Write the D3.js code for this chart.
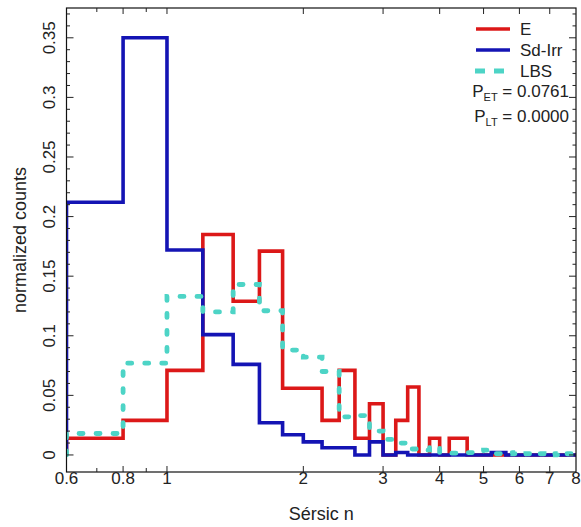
<!DOCTYPE html>
<html>
<head>
<meta charset="utf-8">
<script src="https://cdn.jsdelivr.net/npm/d3@7"></script>
<style>
  body { margin: 0; background: #fff; }
  text { font-family: "Liberation Sans", Arial, sans-serif; fill: #222; }
</style>
</head>
<body>
<svg id="chart" width="581" height="527"></svg>
<script>
// bin edges (Sersic n), 0.2 wide from 0.6 to 8
const binEdges = d3.range(0, 38).map(i => +(0.6 + i * 0.2).toFixed(1));

// normalized counts per bin
const eValues = [0.014, 0.029, 0.071, 0.185, 0.129, 0.171, 0.056, 0.056, 0.029, 0.071,
  0.014, 0.043, 0, 0.029, 0.057, 0, 0.014, 0, 0.014, 0.014,
  0, 0, 0, 0, 0, 0, 0, 0, 0, 0, 0, 0, 0, 0, 0, 0, 0];
const sdValues = [0.212, 0.35, 0.172, 0.101, 0.076, 0.027, 0.017, 0.011, 0.006, 0.006,
  0, 0.011, 0, 0.002, 0, 0, 0, 0, 0, 0,
  0, 0, 0, 0.002, 0.002, 0, 0, 0, 0, 0, 0, 0, 0, 0, 0, 0, 0];
const lbsValues = [0.018, 0.077, 0.133, 0.120, 0.143, 0.121, 0.088, 0.082, 0.070, 0.032,
  0.033, 0.020, 0.013, 0.010, 0.005, 0.004, 0.007, 0.002, 0.0015, 0.0015,
  0.002, 0.003, 0.004, 0.001, 0.001, 0.002, 0.001, 0, 0.001, 0.002, 0.001, 0, 0.001, 0, 0.002, 0.001, 0.003];

const xTickValues = [0.6, 0.8, 1, 2, 3, 4, 5, 6, 7, 8];
const xMinorTicks = [0.7, 0.9];
const yTickValues = [0, 0.05, 0.1, 0.15, 0.2, 0.25, 0.3, 0.35];
const yMinorTicks = d3.range(0, 38).map(i => i / 100);

const series = [
  { name: "E", values: eValues, color: "#dc1818", dash: null, width: 3.6 },
  { name: "Sd-Irr", values: sdValues, color: "#1414b4", dash: null, width: 3.6 },
  { name: "LBS", values: lbsValues, color: "#4dd4c6", dash: "4,13", width: 4.8 }
];

const svg = d3.select("#chart");
const plot = { left: 66.5, right: 576, top: 8, bottom: 472 };

const x = d3.scaleLog().domain([0.6, 8]).range([plot.left, plot.right]);
const y = d3.scaleLinear().domain([-0.0143, 0.375]).range([plot.bottom, plot.top]);

svg.append("defs").append("clipPath").attr("id", "clip")
  .append("rect").attr("x", plot.left).attr("y", plot.top)
  .attr("width", plot.right - plot.left).attr("height", plot.bottom - plot.top);

// stair points for a histogram
function stairs(values) {
  const pts = [[binEdges[0], 0]];
  values.forEach((v, i) => {
    pts.push([binEdges[i], v]);
    pts.push([binEdges[i + 1], v]);
  });
  pts.push([binEdges[binEdges.length - 1], 0]);
  return pts;
}

const line = d3.line().x(d => x(d[0])).y(d => y(d[1]));

const g = svg.append("g").attr("clip-path", "url(#clip)");
series.forEach(s => {
  g.append("path")
    .attr("d", line(stairs(s.values)))
    .attr("fill", "none")
    .attr("stroke", s.color)
    .attr("stroke-width", s.width)
    .attr("stroke-dasharray", s.dash)
    .attr("stroke-linecap", s.dash ? "round" : "butt")
    .attr("stroke-linejoin", "miter");
});

// frame
svg.append("rect")
  .attr("x", plot.left).attr("y", plot.top)
  .attr("width", plot.right - plot.left).attr("height", plot.bottom - plot.top)
  .attr("fill", "none").attr("stroke", "#111").attr("stroke-width", 1.2);

// y ticks, both sides, inward
const axisG = svg.append("g").attr("stroke", "#222").attr("stroke-width", 1);
yMinorTicks.forEach(v => {
  const major = yTickValues.some(t => Math.abs(t - v) < 1e-9);
  const len = major ? 7 : 3.5;
  axisG.append("line").attr("x1", plot.left).attr("x2", plot.left + len).attr("y1", y(v)).attr("y2", y(v));
  axisG.append("line").attr("x1", plot.right).attr("x2", plot.right - len).attr("y1", y(v)).attr("y2", y(v));
});

// x ticks, bottom and top
xTickValues.concat(xMinorTicks).forEach(v => {
  if (v === 0.6 || v === 8) return;
  const len = xMinorTicks.includes(v) ? 4 : 6;
  axisG.append("line").attr("x1", x(v)).attr("x2", x(v)).attr("y1", plot.bottom).attr("y2", plot.bottom - len);
  axisG.append("line").attr("x1", x(v)).attr("x2", x(v)).attr("y1", plot.top).attr("y2", plot.top + len);
});

// tick labels
svg.selectAll(".xlab").data(xTickValues).join("text")
  .attr("x", d => x(d)).attr("y", 484)
  .attr("text-anchor", "middle")
  .attr("font-size", 17)
  .text(d => d);

svg.selectAll(".ylab").data(yTickValues).join("text")
  .attr("transform", d => `translate(55,${y(d)}) rotate(-90)`)
  .attr("text-anchor", "middle")
  .attr("font-size", 17)
  .text(d => d);

// axis titles
svg.append("text")
  .attr("x", (plot.left + plot.right) / 2).attr("y", 520)
  .attr("text-anchor", "middle").attr("font-size", 18)
  .text("Sérsic n");

svg.append("text")
  .attr("transform", `translate(26,${(plot.top + plot.bottom) / 2}) rotate(-90)`)
  .attr("text-anchor", "middle").attr("font-size", 18)
  .text("normalized counts");

// legend
const legY = [29, 50, 71];
series.forEach((s, i) => {
  svg.append("line")
    .attr("x1", s.dash ? 475 : 476).attr("x2", s.dash ? 504 : 510)
    .attr("y1", legY[i]).attr("y2", legY[i])
    .attr("stroke", s.color).attr("stroke-width", s.width)
    .attr("stroke-dasharray", s.dash ? "10,9" : null);
  svg.append("text")
    .attr("x", 520).attr("y", legY[i] + 6)
    .attr("font-size", 17)
    .text(s.name);
});

const pLabels = [["ET", "0.0761"], ["LT", "0.0000"]];
pLabels.forEach((p, i) => {
  const t = svg.append("text")
    .attr("x", 569).attr("y", 97 + i * 25)
    .attr("text-anchor", "end")
    .attr("font-size", 17);
  t.append("tspan").text("P");
  t.append("tspan").attr("font-size", 11).attr("dy", 4).text(p[0]);
  t.append("tspan").attr("dy", -4).text(" = " + p[1]);
});
</script>
</body>
</html>
